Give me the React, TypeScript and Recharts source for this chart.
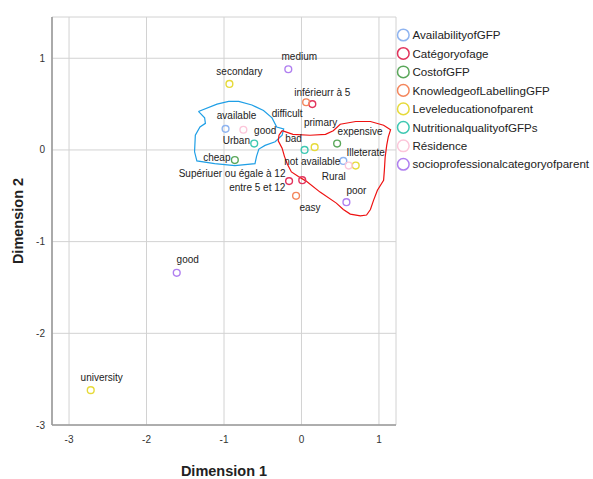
import React from 'react';
import { ScatterChart, Scatter, XAxis, YAxis, CartesianGrid, Customized } from 'recharts';

// ---- Data (category quantifications, Dimension 1 / Dimension 2) ----
const availabilityOfGFP = [
  { cat: 'available', d1: -0.98, d2: 0.23 },
  { cat: 'not available', d1: 0.54, d2: -0.12 },
];
const categoryOfAge = [
  { cat: 'inférieurr à 5', d1: 0.14, d2: 0.5 },
  { cat: 'Supériuer ou égale à 12', d1: -0.16, d2: -0.34 },
  { cat: 'entre 5 et 12', d1: 0.01, d2: -0.33 },
];
const costOfGFP = [
  { cat: 'cheap', d1: -0.86, d2: -0.11 },
  { cat: 'expensive', d1: 0.46, d2: 0.07 },
];
const knowledgeOfLabelling = [
  { cat: 'difficult', d1: 0.06, d2: 0.52 },
  { cat: 'easy', d1: -0.07, d2: -0.5 },
];
const levelEducation = [
  { cat: 'secondary', d1: -0.93, d2: 0.72 },
  { cat: 'primary', d1: 0.17, d2: 0.03 },
  { cat: 'Illeterate', d1: 0.7, d2: -0.17 },
  { cat: 'university', d1: -2.72, d2: -2.62 },
];
const nutritionalQuality = [
  { cat: 'good', d1: -0.61, d2: 0.07 },
  { cat: 'bad', d1: 0.04, d2: 0.0 },
];
const residence = [
  { cat: 'Urban', d1: -0.75, d2: 0.22 },
  { cat: 'Rural', d1: 0.61, d2: -0.17 },
];
const socioProfessional = [
  { cat: 'medium', d1: -0.17, d2: 0.88 },
  { cat: 'poor', d1: 0.58, d2: -0.57 },
  { cat: 'good', d1: -1.61, d2: -1.34 },
];

// Hand-drawn group outlines (in dimension units)
const blueOutline = [
  { d1: -1.33, d2: 0.42 }, { d1: -1.09, d2: 0.5 }, { d1: -0.94, d2: 0.53 }, { d1: -0.81, d2: 0.53 },
  { d1: -0.64, d2: 0.49 }, { d1: -0.49, d2: 0.43 }, { d1: -0.38, d2: 0.35 }, { d1: -0.32, d2: 0.25 },
  { d1: -0.23, d2: 0.23 }, { d1: -0.25, d2: 0.16 }, { d1: -0.34, d2: 0.09 }, { d1: -0.47, d2: 0.05 },
  { d1: -0.55, d2: 0.01 }, { d1: -0.58, d2: -0.07 }, { d1: -0.6, d2: -0.15 }, { d1: -0.86, d2: -0.17 },
  { d1: -1.12, d2: -0.15 }, { d1: -1.35, d2: -0.12 }, { d1: -1.38, d2: -0.02 }, { d1: -1.37, d2: 0.16 },
  { d1: -1.31, d2: 0.25 }, { d1: -1.24, d2: 0.29 }, { d1: -1.25, d2: 0.35 }, { d1: -1.33, d2: 0.42 },
];
const redOutline = [
  { d1: -0.25, d2: 0.21 }, { d1: -0.11, d2: 0.17 }, { d1: 0.11, d2: 0.16 }, { d1: 0.31, d2: 0.17 },
  { d1: 0.41, d2: 0.21 }, { d1: 0.5, d2: 0.28 }, { d1: 0.7, d2: 0.31 }, { d1: 0.89, d2: 0.31 },
  { d1: 1.06, d2: 0.27 }, { d1: 1.15, d2: 0.22 }, { d1: 1.12, d2: 0.14 }, { d1: 1.1, d2: 0.05 },
  { d1: 1.08, d2: -0.08 }, { d1: 1.07, d2: -0.22 }, { d1: 1.06, d2: -0.33 }, { d1: 0.98, d2: -0.44 },
  { d1: 0.93, d2: -0.55 }, { d1: 0.89, d2: -0.65 }, { d1: 0.84, d2: -0.71 }, { d1: 0.76, d2: -0.72 },
  { d1: 0.63, d2: -0.7 }, { d1: 0.54, d2: -0.65 }, { d1: 0.45, d2: -0.58 }, { d1: 0.24, d2: -0.46 },
  { d1: 0.06, d2: -0.34 }, { d1: -0.04, d2: -0.29 }, { d1: -0.13, d2: -0.24 }, { d1: -0.18, d2: -0.16 },
  { d1: -0.22, d2: -0.07 }, { d1: -0.25, d2: 0.02 }, { d1: -0.3, d2: 0.1 }, { d1: -0.29, d2: 0.16 },
  { d1: -0.25, d2: 0.21 },
];

const xTicks = [-3, -2, -1, 0, 1];
const yTicks = [-3, -2, -1, 0, 1];

// ---- Styling ----
const series = [
  { key: 'AvailabilityofGFP', data: availabilityOfGFP, color: '#8fb4f0' },
  { key: 'Catégoryofage', data: categoryOfAge, color: '#e2335c' },
  { key: 'CostofGFP', data: costOfGFP, color: '#5aa75a' },
  { key: 'KnowledgeofLabellingGFP', data: knowledgeOfLabelling, color: '#f4865c' },
  { key: 'Leveleducationofparent', data: levelEducation, color: '#e6da3a' },
  { key: 'NutritionalqualityofGFPs', data: nutritionalQuality, color: '#3ec8b2' },
  { key: 'Résidence', data: residence, color: '#fcc6da' },
  { key: 'socioprofessionalcategoryofparent', data: socioProfessional, color: '#b07ff0' },
];

// label placement relative to marker (px)
const labelOffsets: Record<string, [number, number]> = {
  'AvailabilityofGFP|available': [11, -13],
  'AvailabilityofGFP|not available': [-31, 1],
  'Catégoryofage|inférieurr à 5': [10, -12],
  'Catégoryofage|Supériuer ou égale à 12': [-57, -8],
  'Catégoryofage|entre 5 et 12': [-45, 7],
  'CostofGFP|cheap': [-18, -3],
  'CostofGFP|expensive': [23, -12],
  'KnowledgeofLabellingGFP|difficult': [-19, 11],
  'KnowledgeofLabellingGFP|easy': [14, 12],
  'Leveleducationofparent|secondary': [10, -12],
  'Leveleducationofparent|primary': [6, -25],
  'Leveleducationofparent|Illeterate': [10, -13],
  'Leveleducationofparent|university': [11, -13],
  'NutritionalqualityofGFPs|good': [11, -13],
  'NutritionalqualityofGFPs|bad': [-11, -11],
  'Résidence|Urban': [-7, 11],
  'Résidence|Rural': [-15, 11],
  'socioprofessionalcategoryofparent|medium': [11, -13],
  'socioprofessionalcategoryofparent|poor': [10, -12],
  'socioprofessionalcategoryofparent|good': [11, -13],
};

const FONT = '"Liberation Sans", Arial, sans-serif';

const makeShape = (seriesKey: string, color: string) => (props: any) => {
  const { cx, cy, payload } = props;
  if (cx == null || cy == null) return <g />;
  const off = labelOffsets[seriesKey + '|' + payload.cat] || [10, -12];
  return (
    <g>
      <circle cx={cx} cy={cy} r={3.4} fill="none" stroke={color} strokeWidth={1.4} />
      <text x={cx + off[0]} y={cy + off[1] + 3.5} textAnchor="middle" fontSize={10} fill="#222" fontFamily={FONT}>
        {payload.cat}
      </text>
    </g>
  );
};

const Decorations = () => (
  <g>
    <text x={224} y={476} textAnchor="middle" fontSize={14.5} fontWeight="bold" fill="#222" fontFamily={FONT}>
      Dimension 1
    </text>
    <text
      x={23}
      y={221}
      textAnchor="middle"
      fontSize={14.5}
      fontWeight="bold"
      fill="#222"
      fontFamily={FONT}
      transform="rotate(-90 23 221)"
    >
      Dimension 2
    </text>
    {series.map((s, i) => (
      <g key={s.key}>
        <circle cx={403.3} cy={35 + i * 18.47} r={5.8} fill="none" stroke={s.color} strokeWidth={1.5} />
        <text x={412.5} y={35 + i * 18.47 + 4.2} fontSize={11.6} fill="#222" fontFamily={FONT}>
          {s.key}
        </text>
      </g>
    ))}
  </g>
);

export default function App() {
  return (
    <div style={{ position: 'absolute', left: 0, top: 0, background: '#fff' }}>
      <ScatterChart width={593} height={479} margin={{ top: 17, right: 197, bottom: 24, left: 0 }}>
        <CartesianGrid stroke="#d2d2d2" strokeWidth={1} />
        <XAxis
          type="number"
          dataKey="d1"
          domain={[-3.22, 1.22]}
          ticks={xTicks}
          allowDataOverflow
          height={30}
          tickLine={false}
          tickSize={0}
          tickMargin={11}
          axisLine={{ stroke: '#9a9a9a', strokeWidth: 1.6 }}
          tick={{ fontSize: 10, fill: '#333', fontFamily: FONT }}
        />
        <YAxis
          type="number"
          dataKey="d2"
          domain={[-3, 1.45]}
          ticks={yTicks}
          allowDataOverflow
          width={52}
          tickLine={false}
          tickSize={0}
          tickMargin={7}
          axisLine={{ stroke: '#9a9a9a', strokeWidth: 1.6 }}
          tick={{ fontSize: 10, fill: '#333', fontFamily: FONT }}
        />
        <Scatter
          data={blueOutline}
          line={{ stroke: '#1f9fe6', strokeWidth: 1.2 }}
          lineType="joint"
          shape={() => <g />}
          isAnimationActive={false}
          legendType="none"
        />
        <Scatter
          data={redOutline}
          line={{ stroke: '#ee1111', strokeWidth: 1.2 }}
          lineType="joint"
          shape={() => <g />}
          isAnimationActive={false}
          legendType="none"
        />
        {series.map((s) => (
          <Scatter
            key={s.key}
            name={s.key}
            data={s.data}
            shape={makeShape(s.key, s.color)}
            isAnimationActive={false}
          />
        ))}
        <Customized component={<Decorations />} />
      </ScatterChart>
    </div>
  );
}
